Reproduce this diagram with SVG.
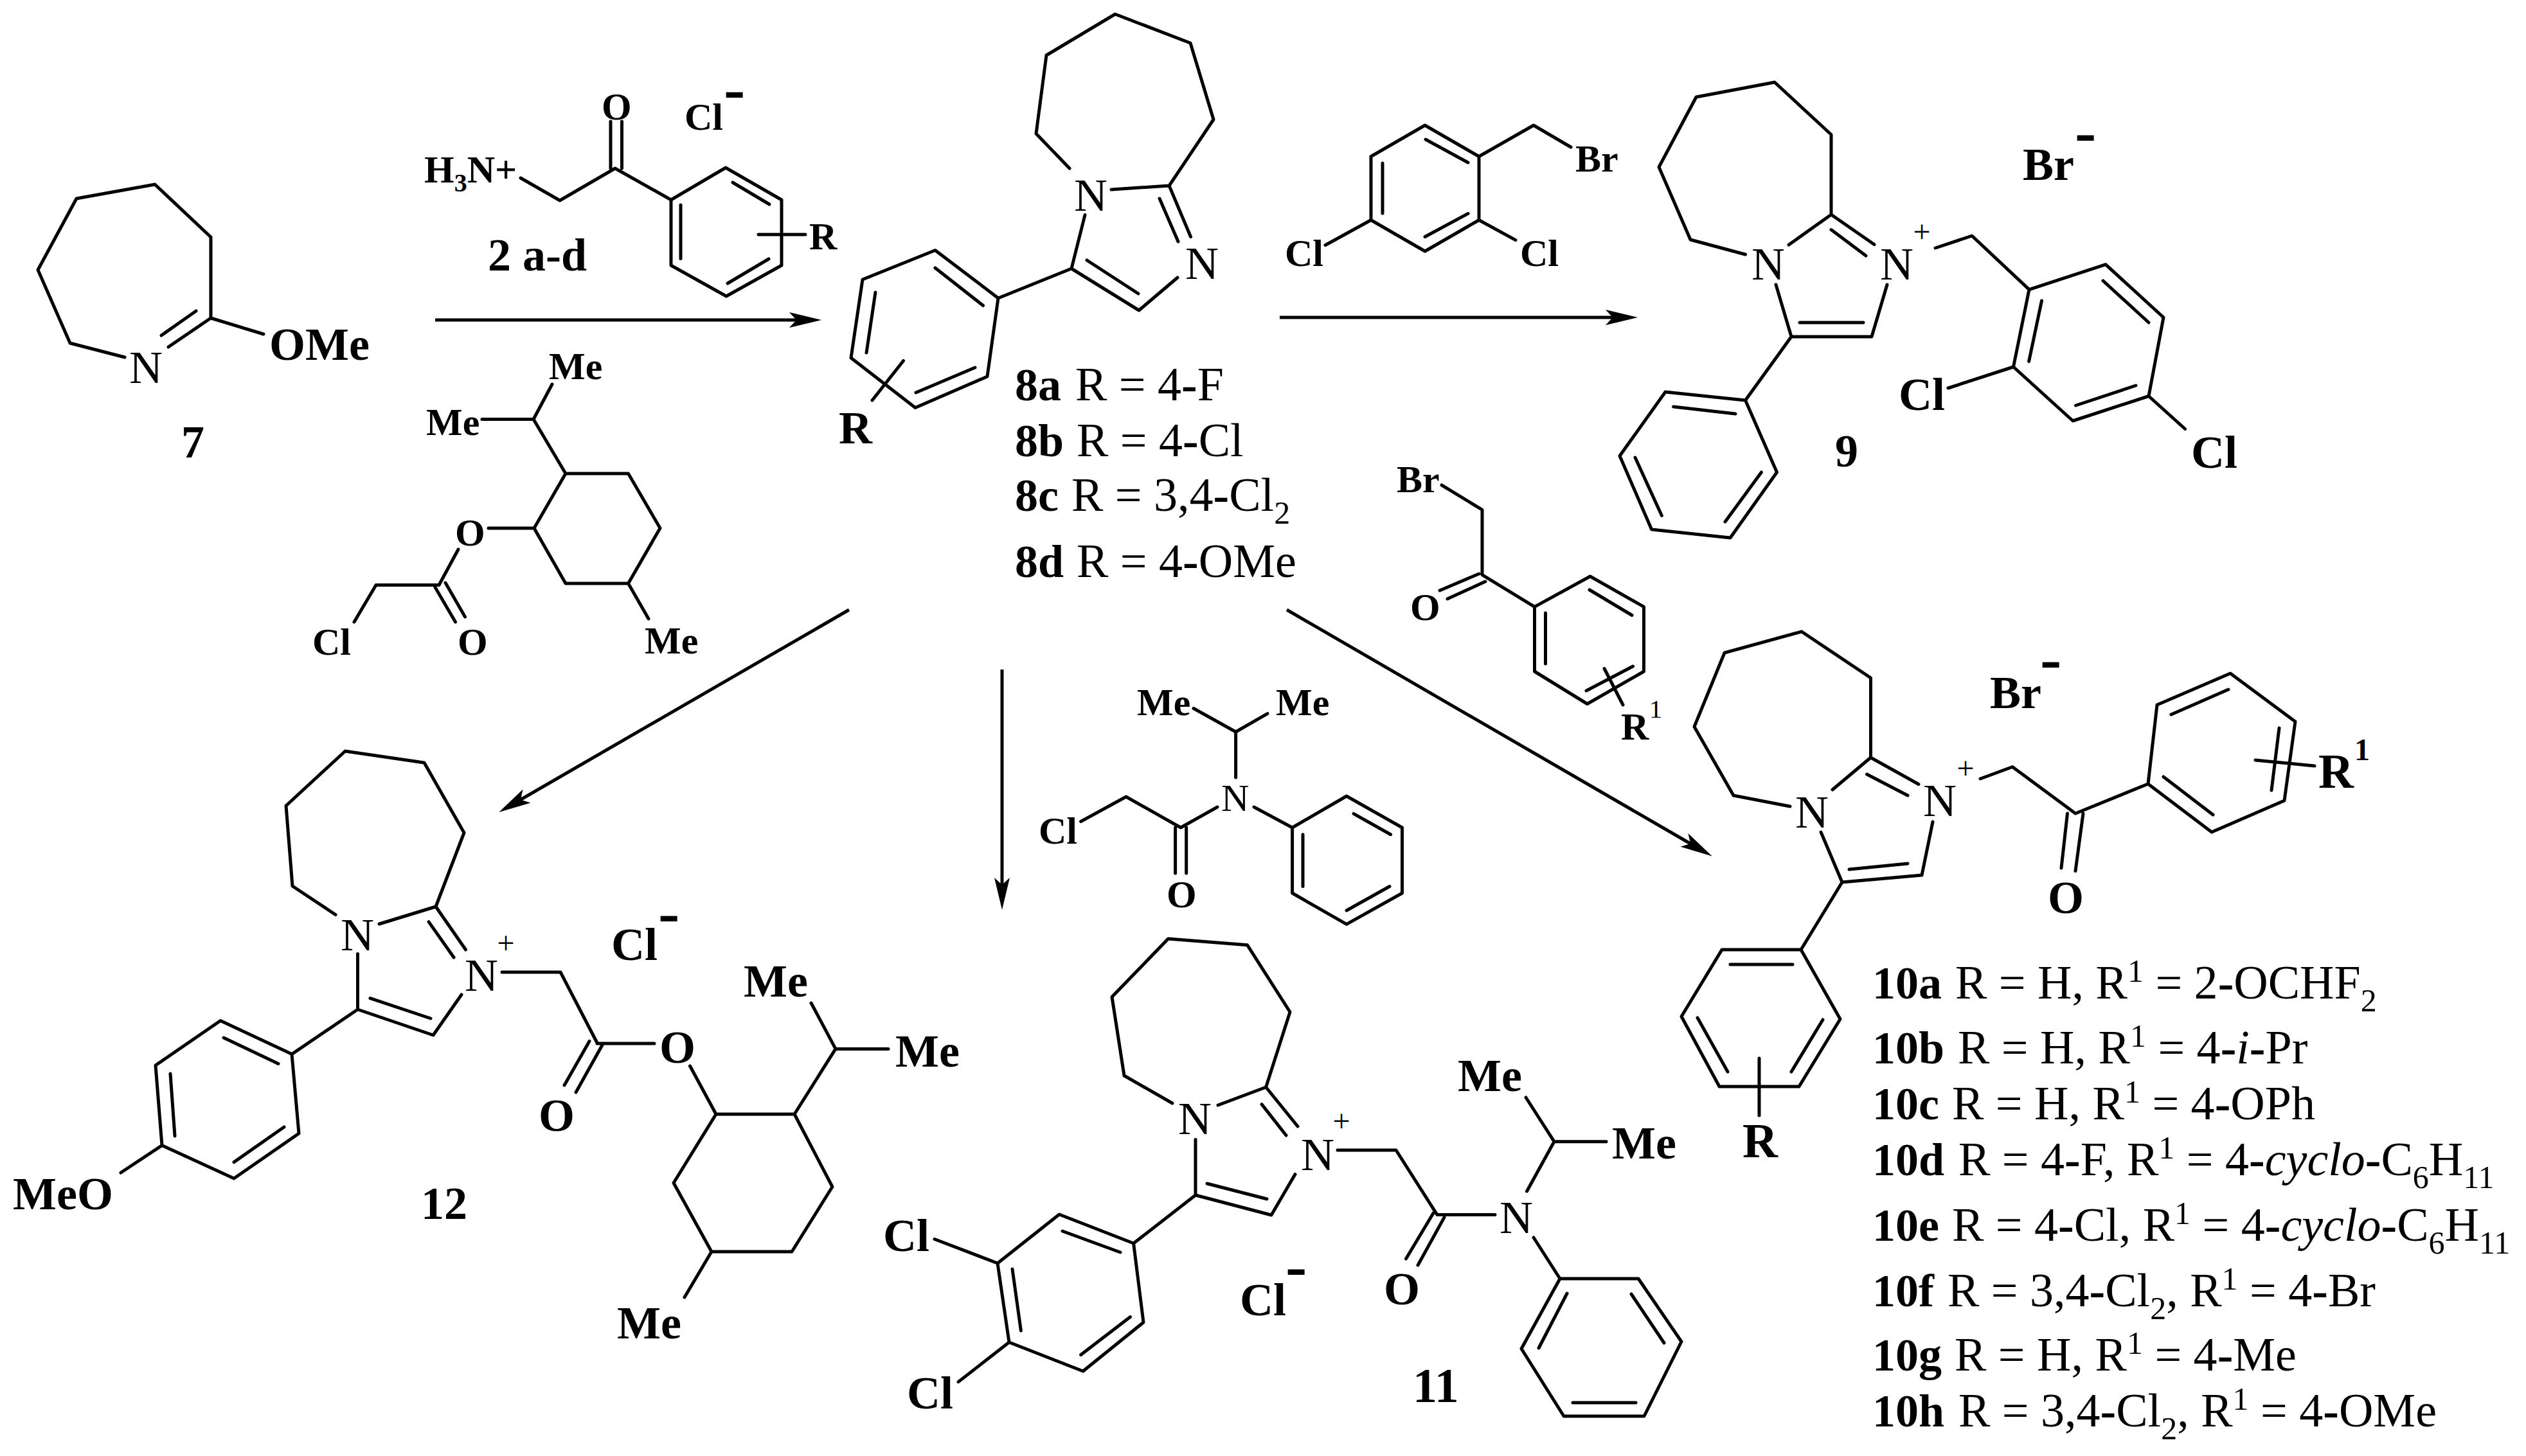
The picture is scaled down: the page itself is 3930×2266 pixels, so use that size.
<svg xmlns="http://www.w3.org/2000/svg" width="3930" height="2266" viewBox="0 0 3930 2266">
<style>
.bond{fill:none;stroke:#000;stroke-width:5;stroke-linecap:round;stroke-linejoin:round}
.arrow{fill:none;stroke:#000;stroke-width:5;marker-end:url(#head)}
text{font-family:"Liberation Serif","Times New Roman",serif;fill:#000;font-weight:700;font-size:72px}
.s60{font-size:60px}.s76{font-size:76px}
.n{font-weight:400;font-size:72px}.ns{font-weight:400;font-size:60px}
.p{font-weight:400;font-size:48px;text-anchor:middle}
.sup{font-size:48px}.supr{font-weight:400;font-size:40px}
.neg{font-size:100px}
.r{font-weight:400;font-size:74px}
.h{font-weight:700;font-size:74px}
.rs{font-weight:400;font-size:50px}
.i{font-style:italic}
</style>
<defs>
<marker id="head" markerUnits="userSpaceOnUse" markerWidth="50" markerHeight="24" refX="11" refY="12" orient="auto" overflow="visible">
<path d="M50,12 L0,0 L11,12 L0,24 Z" fill="#000"/>
</marker>
</defs>
<g id="connectors">
<path class="arrow" d="M677,498 L1239,498"/>
<path class="arrow" d="M1991,494 L2509,494"/>
<path class="arrow" d="M1321,949 L810,1244.5"/>
<path class="arrow" d="M1559,1042 L1559,1377"/>
<path class="arrow" d="M2002,949 L2630,1313"/>
</g>
<g id="compound-7">
<path class="bond" d="M194,556 L109,534 L59,420 L119,309 L241,287 L328,369 L328,495 L262,540 M305,484 L251,522 M328,495 L410,520"/>
<text x="419" y="560">OMe</text>
<text x="201" y="596" class="n">N</text>
<text x="282" y="712">7</text>
</g>
<g id="reagent-2">
<path class="bond" d="M810,277 L871,312 L957,262 L1044,311 L1129,261 L1216,311 L1216,413 L1130,461 L1044,413 L1044,311 M950,262 L950,189 M967.5,262 L967.5,189 M1059,319 L1059,402.5 M1140,284 L1197,318 M1132,441 L1196,403 M1180,365 L1253,365"/>
<text x="660" y="284" class="s60">H<tspan dy="14" font-size="40">3</tspan><tspan dy="-14">N+</tspan></text>
<text x="936" y="186" class="s60">O</text>
<text x="1065" y="202" class="s60">Cl</text>
<text x="1126" y="170.5" class="neg">-</text>
<text x="1259" y="388" class="s60">R</text>
<text x="759" y="421">2 a-d</text>
</g>
<g id="reagent-menthyl-chloroacetate">
<path class="bond" d="M859,598 L830,652.5 L880,737 L977.5,737 L1027,822 L977.5,908 L880,908 L831,822 L880,737 M750,652.5 L830,652.5 M760,822 L831,822 M713,855 L683,910.5 L585,910.5 L551,968 M677,914 L708.5,968 M693,907 L723.5,960 M977.5,908 L1009,963"/>
<text x="854" y="590" class="s60">Me</text>
<text x="663" y="677" class="s60">Me</text>
<text x="708" y="849" class="s60">O</text>
<text x="486" y="1019" class="s60">Cl</text>
<text x="712" y="1019" class="s60">O</text>
<text x="1003" y="1017" class="s60">Me</text>
</g>
<g id="compound-8">
<path class="bond" d="M1664,262 L1612,208 L1628,86 L1735,22 L1852,67 L1888,186 L1819,289 L1729,295 M1819,289 L1852.5,368.5 M1804,309 L1833,376 M1832,432 L1772,483 L1667,418 L1688,334.5 M1771,457 L1691,405 M1667,418 L1553,464 L1455,389.5 L1342,435 L1324,557 L1424,634.5 L1536,586 L1553,464 M1529.5,475.5 L1455,417 M1362,455 L1348,549 M1425,611 L1517,572 M1405.5,561.5 L1357,623"/>
<text x="1671" y="328" class="n">N</text>
<text x="1844" y="433.5" class="n">N</text>
<text x="1305" y="690">R</text>
<text x="1579" y="623">8a<tspan x="1673" class="r">R = 4</tspan><tspan class="h">-</tspan><tspan class="r">F</tspan></text>
<text x="1579" y="710">8b<tspan x="1675" class="r">R = 4</tspan><tspan class="h">-</tspan><tspan class="r">Cl</tspan></text>
<text x="1579" y="795">8c<tspan x="1667" class="r">R = 3,4</tspan><tspan class="h">-</tspan><tspan class="r">Cl</tspan><tspan class="rs" dy="20">2</tspan></text>
<text x="1579" y="898">8d<tspan x="1675" class="r">R = 4</tspan><tspan class="h">-</tspan><tspan class="r">OMe</tspan></text>
</g>
<g id="reagent-benzyl-bromide">
<path class="bond" d="M2301,243.5 L2217,195 L2133,243.5 L2133,342.5 L2217,391 L2301,342.5 L2301,243.5 L2386,195 L2444,229 M2218,217 L2284,253 M2151,254 L2151,332 M2217,368.5 L2284,332.4 M2133,342.5 L2062,381.5 M2301,342.5 L2358,373.6"/>
<text x="2451" y="267" class="s60">Br</text>
<text x="1999" y="414" class="s60">Cl</text>
<text x="2365" y="414" class="s60">Cl</text>
</g>
<g id="compound-9">
<path class="bond" d="M2715.5,396 L2630,373 L2581,260 L2639,151 L2761,128 L2849,209.5 L2849,334 L2783,381 M2849,334 L2916,380.5 M2849,357.6 L2903,398 M2763,443 L2787,524 L2912,524 L2936,443 M2800,502 L2899,502 M3011,386 L3068,367 L3157,450.6 L3276,411.6 L3366,494 L3343,616.5 L3225,655 L3132.5,571 L3157,450.6 M3272,437 L3343,502 M3176.5,468 L3156.6,562.5 M3229.5,631 L3323,600 M3132.5,571 L3031,604 M3343,616.5 L3399.5,667.5 M2787,524 L2715.5,623 L2591,610 L2520,709.5 L2569.6,824 L2692,837 L2764.5,735 L2715.5,623 M2700,644 L2603.6,633 M2544,712 L2585.4,802.5 M2684,812 L2740.4,735"/>
<text x="2725" y="434.5" class="n">N</text>
<text x="2925" y="434.5" class="n">N</text>
<text x="2990" y="377" class="p">+</text>
<text x="2954" y="638">Cl</text>
<text x="3409" y="728">Cl</text>
<text x="3147" y="280">Br</text>
<text x="3228" y="238" class="neg">-</text>
<text x="2855" y="726">9</text>
</g>
<g id="reagent-bromoketone">
<path class="bond" d="M2243,755 L2306,793.4 L2306,894.6 L2387.5,944.4 L2474,897 L2557.5,944.4 L2557.5,1045 L2469.5,1095.5 L2387.5,1045 L2387.5,944.4 M2301,893 L2240,919 M2311,905 L2252,932 M2473,918 L2539,957.5 M2404.5,954 L2404.5,1033 M2468,1075 L2540.5,1037 M2496,1040.5 L2525,1097"/>
<text x="2173" y="766" class="s60">Br</text>
<text x="2194" y="965" class="s60">O</text>
<text x="2522" y="1151" class="s60">R</text>
<text x="2566" y="1117" class="supr">1</text>
</g>
<g id="compound-10">
<path class="bond" d="M2785,1255 L2697,1238 L2636,1131 L2683,1016 L2803,983 L2910.5,1055 L2910.5,1179 L2851,1229 M2910.5,1179 L2985,1220.5 M2904.5,1205 L2968,1238 M2833,1295 L2866,1373 L2990,1362 L3007,1279 M2877,1353 L2968,1344 M3081,1212 L3131,1193.5 L3229,1266 L3342,1220 L3356,1097 L3470,1048 L3571,1123 L3554,1246 L3441,1295 L3342,1220 M3216.5,1266 L3207,1351 M3241,1266 L3229,1355.5 M3378,1112 L3467,1073 M3546,1133 L3534,1230 M3366,1209 L3443,1268 M3509,1183 L3601,1192 M2866,1373 L2802,1478 L2679,1478 L2616,1582 L2675,1691 L2799,1691 L2863,1586 L2802,1478 M2789,1501 L2692,1501 M2641,1584 L2688,1668 M2836,1587 L2787,1668 M2737,1647 L2737,1736"/>
<text x="2793" y="1288" class="n">N</text>
<text x="2992" y="1270" class="n">N</text>
<text x="3058" y="1212" class="p">+</text>
<text x="3186" y="1421">O</text>
<text x="3607" y="1226" class="s76">R</text>
<text x="3663" y="1183" class="sup">1</text>
<text x="3096" y="1102">Br</text>
<text x="3174" y="1058" class="neg">-</text>
<text x="2711" y="1801" class="s76">R</text>
<text x="2913" y="1554">10a<tspan x="3042" class="r">R = H, R</tspan><tspan class="rs" dy="-26">1</tspan><tspan class="r" dy="26"> = 2</tspan><tspan class="h">-</tspan><tspan class="r">OCHF</tspan><tspan class="rs" dy="20">2</tspan></text>
<text x="2913" y="1655">10b<tspan x="3046" class="r">R = H, R</tspan><tspan class="rs" dy="-26">1</tspan><tspan class="r" dy="26"> = 4</tspan><tspan class="h">-</tspan><tspan class="r i">i</tspan><tspan class="h">-</tspan><tspan class="r">Pr</tspan></text>
<text x="2913" y="1742">10c<tspan x="3037" class="r">R = H, R</tspan><tspan class="rs" dy="-26">1</tspan><tspan class="r" dy="26"> = 4</tspan><tspan class="h">-</tspan><tspan class="r">OPh</tspan></text>
<text x="2913" y="1829">10d<tspan x="3047" class="r">R = 4</tspan><tspan class="h">-</tspan><tspan class="r">F, R</tspan><tspan class="rs" dy="-26">1</tspan><tspan class="r" dy="26"> = 4</tspan><tspan class="h">-</tspan><tspan class="r i">cyclo</tspan><tspan class="h">-</tspan><tspan class="r">C</tspan><tspan class="rs" dy="20">6</tspan><tspan class="r" dy="-20">H</tspan><tspan class="rs" dy="20">11</tspan></text>
<text x="2913" y="1931">10e<tspan x="3037" class="r">R = 4</tspan><tspan class="h">-</tspan><tspan class="r">Cl, R</tspan><tspan class="rs" dy="-26">1</tspan><tspan class="r" dy="26"> = 4</tspan><tspan class="h">-</tspan><tspan class="r i">cyclo</tspan><tspan class="h">-</tspan><tspan class="r">C</tspan><tspan class="rs" dy="20">6</tspan><tspan class="r" dy="-20">H</tspan><tspan class="rs" dy="20">11</tspan></text>
<text x="2913" y="2033">10f<tspan x="3030" class="r">R = 3,4</tspan><tspan class="h">-</tspan><tspan class="r">Cl</tspan><tspan class="rs" dy="20">2</tspan><tspan class="r" dy="-20">, R</tspan><tspan class="rs" dy="-26">1</tspan><tspan class="r" dy="26"> = 4</tspan><tspan class="h">-</tspan><tspan class="r">Br</tspan></text>
<text x="2913" y="2132.5">10g<tspan x="3041" class="r">R = H, R</tspan><tspan class="rs" dy="-26">1</tspan><tspan class="r" dy="26"> = 4</tspan><tspan class="h">-</tspan><tspan class="r">Me</tspan></text>
<text x="2913" y="2219.5">10h<tspan x="3047" class="r">R = 3,4</tspan><tspan class="h">-</tspan><tspan class="r">Cl</tspan><tspan class="rs" dy="20">2</tspan><tspan class="r" dy="-20">, R</tspan><tspan class="rs" dy="-26">1</tspan><tspan class="r" dy="26"> = 4</tspan><tspan class="h">-</tspan><tspan class="r">OMe</tspan></text>
</g>
<g id="compound-12">
<path class="bond" d="M522,1423.5 L455,1379 L445,1254 L537,1169 L660,1187 L722,1296 L678,1411 L590,1438 M678,1411 L724.5,1478 M667,1434.6 L706,1490 M556.5,1484.4 L556.5,1571 L674,1611 L718,1548 M576,1553.6 L670,1585 M781,1513 L872,1513 L929,1623 M929,1624 L1018,1624 M917,1620.5 L878,1689 M937,1626.5 L896,1700 M1073.5,1659 L1114,1734 L1236,1734 L1295,1847 L1232,1948 L1107,1948 L1048,1841 L1114,1734 M1236,1734 L1300,1632.4 L1262,1561 M1300,1632.4 L1382,1632.4 M1107,1948 L1065,2019 M556.5,1571 L454,1640.6 L343,1588.5 L242,1658 L252,1782.6 L364,1834 L465,1764 L454,1640.6 M433,1655.5 L348,1615 M265,1671 L272,1768 M364,1808.6 L442,1754 M252,1782.6 L188,1825"/>
<text x="530" y="1479" class="n">N</text>
<text x="723" y="1542" class="n">N</text>
<text x="787" y="1484" class="p">+</text>
<text x="1026" y="1654">O</text>
<text x="838" y="1760">O</text>
<text x="1157" y="1551">Me</text>
<text x="1393" y="1660">Me</text>
<text x="960" y="2083">Me</text>
<text x="951" y="1494">Cl</text>
<text x="1024" y="1452.5" class="neg">-</text>
<text x="20" y="1882">MeO</text>
<text x="655" y="1897">12</text>
</g>
<g id="reagent-chloroacetamide">
<path class="bond" d="M1857,1102.5 L1922.6,1139 L1972,1110.6 M1922.6,1139 L1922.6,1210 M1894,1256 L1837,1288 L1752,1240 L1681.6,1278.5 M1828.6,1288 L1828.6,1359 M1845.7,1288 L1845.7,1359 M1951,1256 L2010.6,1288 L2095,1239 L2181.5,1288 L2181.5,1390 L2095,1438.4 L2010.6,1390 L2010.6,1288 M2106,1266.4 L2163.6,1298.7 M2027,1298.7 L2027,1379.5 M2095,1417 L2162,1379.5"/>
<text x="1769" y="1113" class="s60">Me</text>
<text x="1985" y="1113" class="s60">Me</text>
<text x="1900" y="1262" class="ns">N</text>
<text x="1616" y="1312.5" class="s60">Cl</text>
<text x="1815" y="1412" class="s60">O</text>
</g>
<g id="compound-11">
<path class="bond" d="M1824,1717 L1749,1674 L1730,1551.5 L1817.5,1461 L1940.5,1470.7 L2007,1575 L1969.6,1692 L1895,1720 M1969.6,1692 L2019,1753 M1963,1718.6 L2001,1767 M1860,1773.5 L1860,1860 L1978,1891 L2015,1827.6 M1878,1842 L1971,1866 M2081,1790 L2172,1790 L2236,1890.6 L2326,1890.6 M2230,1888 L2187.5,1959 M2247,1894.6 L2206,1969 M2375.5,1854 L2418,1776.7 L2374,1708 M2418,1776.7 L2499,1776.7 M2386,1926 L2427,1990 L2549,1990 L2616,2088 L2558,2204 L2433,2204 L2367,2099 L2427,1990 M2538,2014 L2589,2090 M2438,2013 L2394,2098 M2447,2183 L2545,2183 M1860,1860 L1763.6,1935 L1648,1890 L1552,1966 L1570,2089 L1685,2134 L1779,2058 L1763.6,1935 M1743,1949 L1653,1916 M1575,1975 L1588.4,2071 M1681.6,2108.6 L1758.5,2049.6 M1552,1966 L1454,1928.5 M1570,2089 L1491,2150.6"/>
<text x="1833" y="1765" class="n">N</text>
<text x="2024" y="1821" class="n">N</text>
<text x="2333" y="1919" class="n">N</text>
<text x="2087" y="1761" class="p">+</text>
<text x="2153" y="2030">O</text>
<text x="2268" y="1698">Me</text>
<text x="2508" y="1803">Me</text>
<text x="2198" y="2182" class="s76">11</text>
<text x="1929" y="2047">Cl</text>
<text x="2000" y="2003" class="neg">-</text>
<text x="1374" y="1947">Cl</text>
<text x="1411" y="2192">Cl</text>
</g>
</svg>
